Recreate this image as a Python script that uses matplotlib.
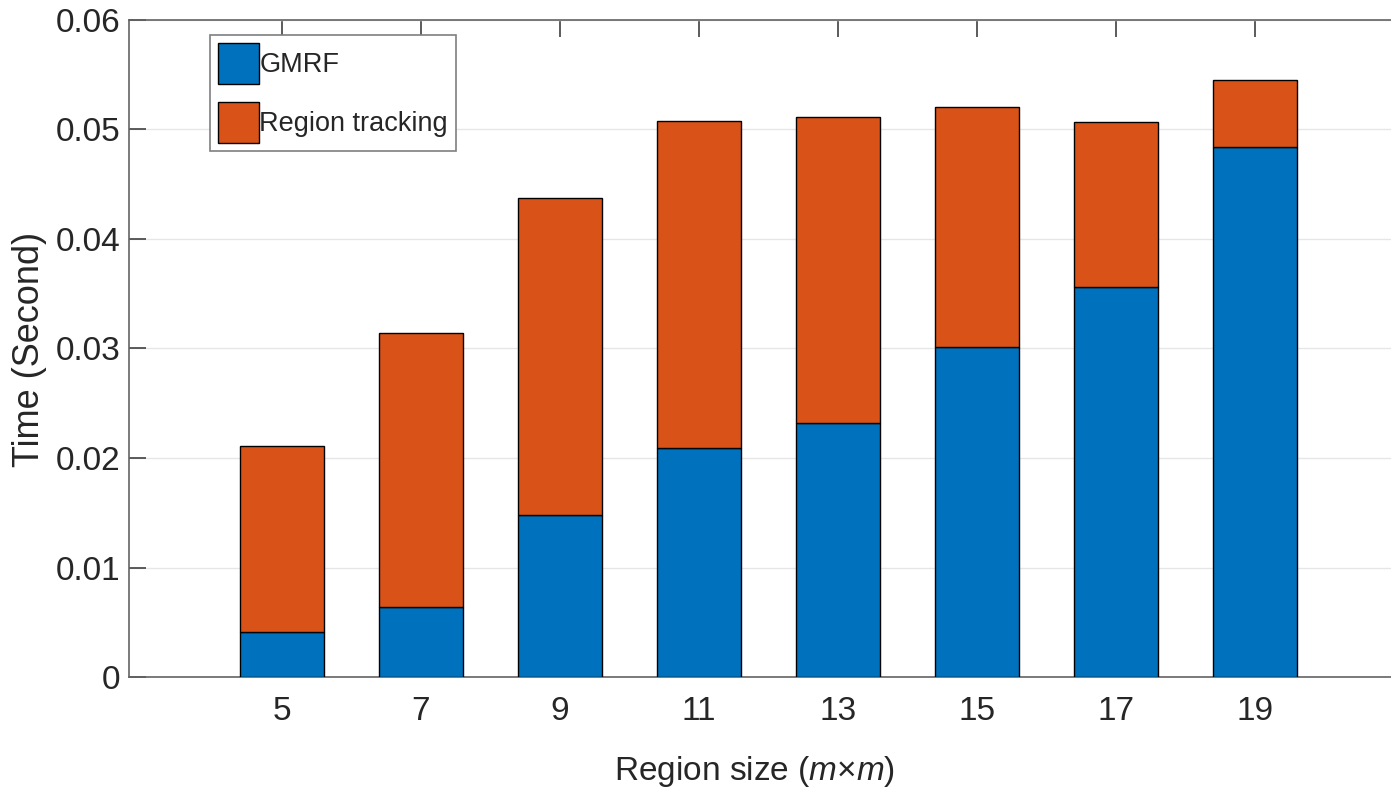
import matplotlib
matplotlib.use("Agg")
import matplotlib.pyplot as plt
import numpy as np

plt.rcParams['font.family'] = ['Liberation Sans', 'DejaVu Sans']
plt.rcParams['mathtext.fontset'] = 'custom'
plt.rcParams['mathtext.it'] = 'Liberation Sans:italic'
plt.rcParams['mathtext.rm'] = 'Liberation Sans'

sizes = [5, 7, 9, 11, 13, 15, 17, 19]
gmrf = [0.0041, 0.0064, 0.0148, 0.0209, 0.0232, 0.0301, 0.0356, 0.0484]
total = [0.0211, 0.0314, 0.0437, 0.0508, 0.0511, 0.0521, 0.0507, 0.0545]
tracking = [t - g for t, g in zip(total, gmrf)]
series_names = ["GMRF", "Region tracking"]
yticks = [0, 0.01, 0.02, 0.03, 0.04, 0.05, 0.06]
ytick_labels = ["0", "0.01", "0.02", "0.03", "0.04", "0.05", "0.06"]

blue = "#0072BD"
orange = "#D95319"

fig = plt.figure(figsize=(13.91, 7.94), dpi=100)
ax = fig.add_axes([129/1391, 117/794, 1279/1391, 657/794])

ax.bar(sizes, gmrf, width=1.2, color=blue, edgecolor="black", linewidth=1, label=series_names[0], zorder=3)
ax.bar(sizes, tracking, width=1.2, bottom=gmrf, color=orange, edgecolor="black", linewidth=1, label=series_names[1], zorder=3)

ax.set_xlim(2.8, 21.2)
ax.set_ylim(0, 0.06)
ax.set_xticks(sizes)
ax.set_xticklabels([str(s) for s in sizes])
ax.set_yticks(yticks)
ax.set_yticklabels(ytick_labels)
ax.yaxis.grid(True, color="#e6e6e6", linewidth=1, zorder=0)
ax.set_axisbelow(True)

for s in ax.spines.values():
    s.set_color("#636363")
    s.set_linewidth(1.2)

ax.tick_params(axis="both", direction="in", length=12, width=1.2, color="#404040",
               labelsize=24, labelcolor="#262626", top=True, right=True, pad=6)
ax.tick_params(axis="x", pad=14)

ax.set_ylabel("Time (Second)", fontsize=26, color="#262626", va="center")
ax.yaxis.set_label_coords(-0.078, 0.498)
ax.set_xlabel("Region size ($m$×$m$)", fontsize=24, color="#262626", va="top")
ax.xaxis.set_label_coords(0.489, -0.117)

leg = ax.legend(loc="upper left", bbox_to_anchor=(210/1391, 1-35/794), bbox_transform=fig.transFigure,
                fontsize=19.5, handlelength=1.52, handleheight=1.95, handletextpad=0.0,
                labelspacing=0.65, borderpad=0.3, borderaxespad=0, fancybox=False,
                framealpha=1, edgecolor="#7f7f7f")
leg.get_frame().set_linewidth(1.2)
for t in leg.get_texts():
    t.set_color("#262626")

fig.savefig("out.png", dpi=100)
